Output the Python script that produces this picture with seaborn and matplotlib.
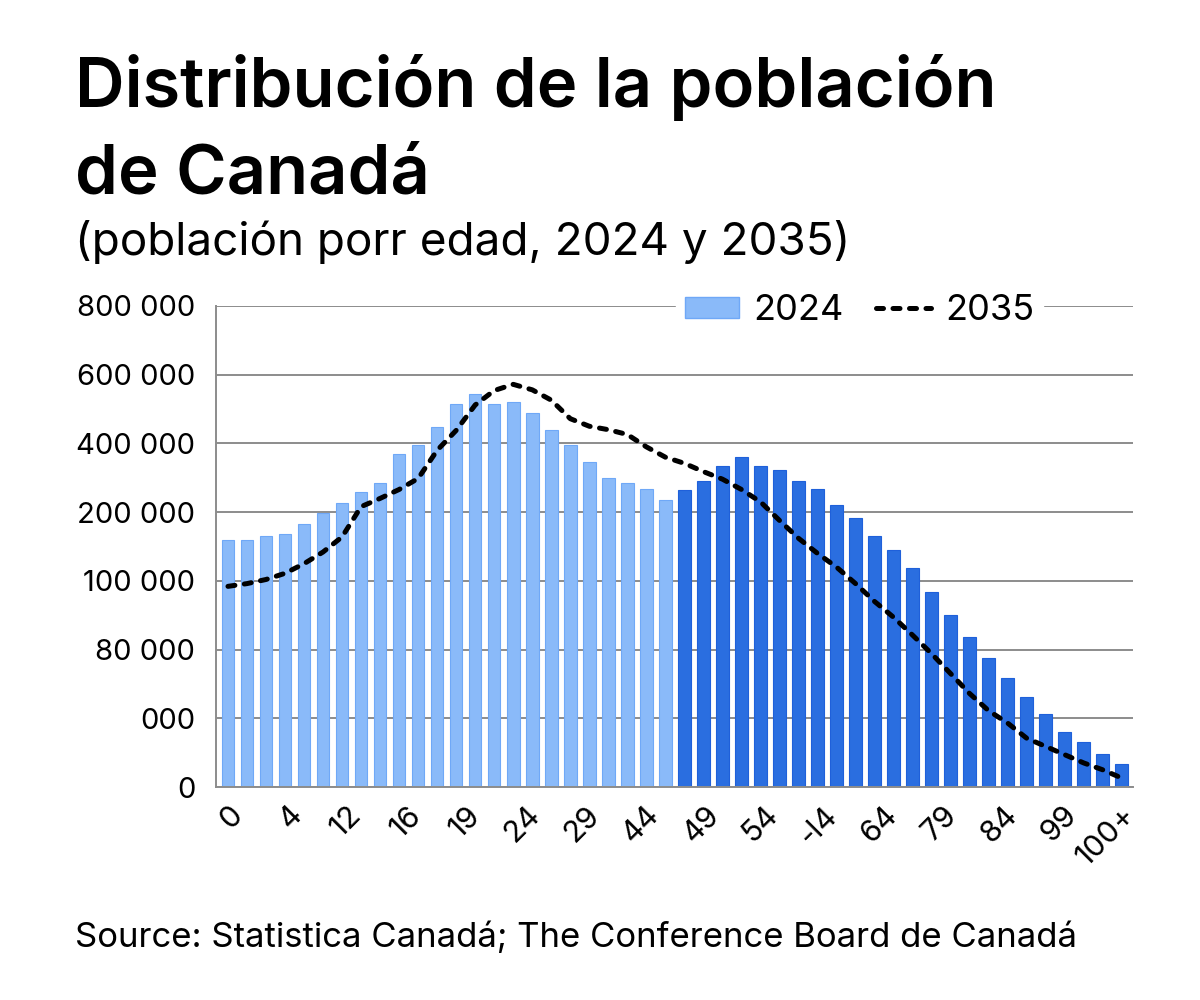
import numpy as np
import pandas as pd
import seaborn as sns
import matplotlib.pyplot as plt
from matplotlib.patches import Patch
from matplotlib.lines import Line2D

# Values (one gridline step = 100 000 on the drawn scale)
pop_2024_young = [360000, 360000, 365000, 368000, 383000, 399000, 414000, 429000,
                  443000, 485000, 498000, 524000, 557000, 572000, 558000, 561000,
                  544000, 519000, 498000, 473000, 450000, 443000, 433000, 418000]
pop_2024_old = [432000, 445000, 467000, 480000, 467000, 461000, 445000, 434000,
                411000, 392000, 366000, 345000, 318000, 284000, 250000, 218000,
                188000, 159000, 131000, 106000, 80000, 65000, 48000, 34000]
pop_2035 = [292000, 296000, 302000, 311000, 325000, 342000, 364000, 408000,
            420000, 433000, 449000, 490000, 519000, 556000, 577000, 586000,
            578000, 563000, 536000, 525000, 520000, 513000, 495000, 480000,
            471000, 459000, 448000, 433000, 415000, 388000, 362000, 340000,
            320000, 296000, 270000, 247000, 221000, 194000, 165000, 136000,
            111000, 93000, 71000, 59000, 47000, 35000, 25000, 13000]

x_labels = ['0', '4', '12', '16', '19', '24', '29', '44',
            '49', '54', '-l4', '64', '79', '84', '99', '100+']
y_tick_values = [0, 100000, 200000, 300000, 400000, 500000, 600000, 700000]
y_tick_labels = ['0', '000', '80 000', '100 000', '200 000', '400 000', '600 000', '800 000']

light_blue = '#8ABAF9'
dark_blue = '#2A6EE0'

n = len(pop_2024_young) + len(pop_2024_old)
df = pd.DataFrame({
    'pos': np.arange(n),
    'pop_2024': pop_2024_young + pop_2024_old,
    'grupo': ['a'] * len(pop_2024_young) + ['b'] * len(pop_2024_old),
    'pop_2035': pop_2035,
})

sns.set_style('white')
plt.rcParams['font.family'] = ['Inter', 'DejaVu Sans']
plt.rcParams['text.color'] = 'black'
plt.rcParams['xtick.color'] = 'black'
plt.rcParams['ytick.color'] = 'black'

fig = plt.figure(figsize=(12, 10), dpi=100)
ax = fig.add_axes([0.18, 0.213, 0.764, 0.481])

sns.barplot(data=df, x='pos', y='pop_2024', hue='grupo',
            palette={'a': light_blue, 'b': dark_blue}, saturation=1,
            width=0.66, legend=False, ax=ax, zorder=2)
for patch, g in zip(ax.patches, df['grupo']):
    patch.set_edgecolor('#6FA8F7' if g == 'a' else '#1F60DA')
    patch.set_linewidth(0.8)

dash = (1.4, 1.9)
sns.lineplot(data=df, x='pos', y='pop_2035', color='black', lw=3.6,
             dashes=dash, ax=ax, zorder=3)
ax.lines[-1].set_dash_capstyle('round')

ax.set_xlim(-0.63, n - 1 + 0.58)
ax.set_ylim(0, 700000)
ax.set_yticks(y_tick_values)
ax.set_yticklabels(y_tick_labels, fontsize=21)
ax.set_xticks(np.linspace(0, n - 1, len(x_labels)))
ax.set_xticklabels(x_labels, fontsize=22, rotation=45, ha='right',
                   rotation_mode='anchor')
ax.tick_params(axis='y', length=0, pad=15)
ax.tick_params(axis='x', length=0, pad=10)
ax.set_xlabel('')
ax.set_ylabel('')

ax.yaxis.grid(True, color='#8C8C8C', lw=1.4, zorder=1)
ax.set_axisbelow(True)
for side in ['top', 'right']:
    ax.spines[side].set_visible(False)
for side in ['left', 'bottom']:
    ax.spines[side].set_color('#8C8C8C')
    ax.spines[side].set_linewidth(1.4)

handles = [Patch(facecolor=light_blue, edgecolor='#6FA8F7'),
           Line2D([0], [0], color='black', lw=3.6, dashes=dash,
                  dash_capstyle='round')]
leg = ax.legend(handles, ['2024', '2035'], loc='center',
                bbox_to_anchor=(0.702, 0.99), ncol=2, frameon=True,
                fontsize=26, handlelength=1.5, handleheight=0.55,
                columnspacing=0.9, handletextpad=0.4, borderpad=0.25,
                borderaxespad=0)
leg.get_frame().set_facecolor('white')
leg.get_frame().set_edgecolor('white')
leg.get_frame().set_alpha(1)
leg.set_zorder(5)

fig.text(0.0625, 0.893, 'Distribución de la población', fontsize=49.5,
         fontweight='semibold', va='baseline', ha='left')
fig.text(0.0625, 0.807, 'de Canadá', fontsize=49.5,
         fontweight='semibold', va='baseline', ha='left')
fig.text(0.0625, 0.745, '(población porr edad, 2024 y 2035)', fontsize=33,
         va='baseline', ha='left')
fig.text(0.0625, 0.053, 'Source: Statistica Canadá; The Conference Board de Canadá',
         fontsize=25, va='baseline', ha='left')

plt.savefig('out.png', dpi=100)
plt.close()
